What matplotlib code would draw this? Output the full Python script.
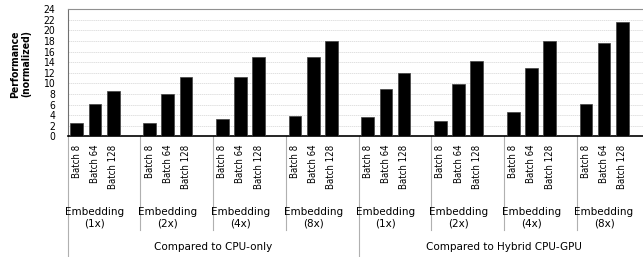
import matplotlib
matplotlib.use('Agg')
import matplotlib.pyplot as plt

plt.rcParams['font.family'] = ['DejaVu Sans']
plt.rcParams['font.stretch'] = 'condensed'

embeddings = ['Embedding\n(1x)', 'Embedding\n(2x)', 'Embedding\n(4x)', 'Embedding\n(8x)',
              'Embedding\n(1x)', 'Embedding\n(2x)', 'Embedding\n(4x)', 'Embedding\n(8x)']
batches = ['Batch 8', 'Batch 64', 'Batch 128']
baselines = ['Compared to CPU-only', 'Compared to Hybrid CPU-GPU']

batch8 = [2.45, 2.45, 3.2, 3.9, 3.6, 2.95, 4.5, 6.15]
batch64 = [6.1, 8.0, 11.3, 14.9, 8.9, 9.9, 13.0, 17.6]
batch128 = [8.55, 11.3, 14.9, 18.1, 11.9, 14.2, 18.0, 21.6]

W, H = 643, 257
fig = plt.figure(figsize=(W / 100, H / 100), dpi=100)
# the axes runs a little past the right edge of the figure, like the original
x0, x1, ytop, ybot = 67.7, 649.5, 9.3, 136.3
ax = fig.add_axes([x0 / W, (H - ybot) / H, (x1 - x0) / W, (ybot - ytop) / H])

series = [batch8, batch64, batch128]
for i, vals in enumerate(series):
    xs = [4 * g + i + 0.5 for g in range(len(vals))]
    ax.bar(xs, vals, width=0.7, color='black', edgecolor='#404040', linewidth=0.5, zorder=3)

ax.set_xlim(0, 32)
ax.set_ylim(0, 24)
ax.set_yticks(range(0, 25, 2))
ax.tick_params(axis='y', length=0, pad=9, labelsize=7.5)
ax.set_xticks([])
ax.grid(axis='y', color='#d4d4d4', linestyle=(0, (2, 1)), linewidth=0.5, zorder=0)
ax.spines['top'].set_color('#909090')
ax.spines['right'].set_visible(False)
ax.spines['left'].set_color('#707070')
ax.spines['bottom'].set_color('black')
ax.spines['bottom'].set_linewidth(1.2)

fig.text(21 / W, 1 - 64 / H, 'Performance\n(normalized)', rotation=90, ha='center', va='center',
         fontsize=7.5, fontweight='bold', linespacing=1.1)

def fy(pix):
    return (ybot - pix) / (ybot - ytop)

tr = ax.get_xaxis_transform()
for g in range(8):
    for i, b in enumerate(batches):
        ax.text(4 * g + i + 0.5, fy(144.7), b, rotation=90, ha='center', va='top',
                fontsize=6.9, transform=tr)
    ax.text(4 * g + 1.5, fy(218), embeddings[g], ha='center', va='center',
            fontsize=7.5, fontstretch='normal', linespacing=1.15, transform=tr)

for k, name in enumerate(baselines):
    ax.text(16 * k + 8, fy(246.7), name, ha='center', va='center', fontsize=7.5,
            fontstretch='normal', transform=tr)

for xb in range(0, 33, 4):
    bottom = fy(257) - 0.05 if xb % 16 == 0 else fy(230)
    ax.plot([xb, xb], [0, bottom], color='#b0b0b0', linewidth=0.8,
            transform=tr, clip_on=False)

fig.savefig('out.png', dpi=100)
